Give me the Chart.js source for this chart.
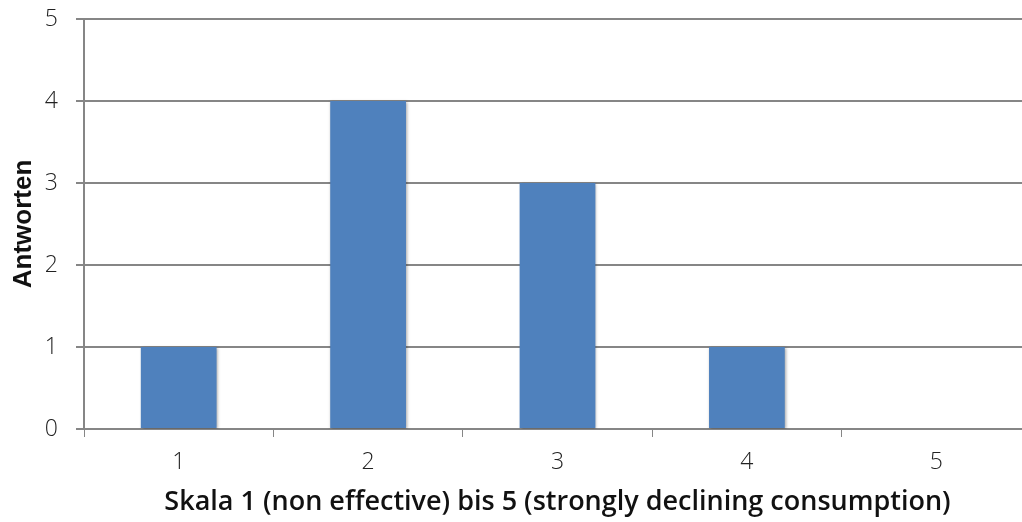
<!DOCTYPE html>
<html>
<head>
<meta charset="utf-8">
<script src="https://cdn.jsdelivr.net/npm/chart.js@4/dist/chart.umd.min.js"></script>
<style>
html,body{margin:0;padding:0;background:#fff;overflow:hidden;}
#wrap{width:1022px;height:522px;overflow:hidden;position:relative;}
#box{position:absolute;left:0;top:0;width:1034px;height:522px;}
</style>
</head>
<body>
<div id="wrap"><div id="box"><canvas id="c"></canvas></div></div>
<script>
const categories = ["1", "2", "3", "4", "5"];
const answers = [1, 4, 3, 1, 0];
const yTicks = [0, 1, 2, 3, 4, 5];
const xTitle = "Skala 1 (non effective) bis 5 (strongly declining consumption)";
const yTitle = "Antworten";

const gridColor = "#868686";
const barShadow = {
  id: "barShadow",
  beforeDatasetsDraw(chart) {
    const ctx = chart.ctx;
    ctx.save();
    ctx.shadowColor = "rgba(0,0,0,0.35)";
    ctx.shadowBlur = 3;
    ctx.shadowOffsetX = 1;
    ctx.shadowOffsetY = 1;
  },
  afterDatasetsDraw(chart) { chart.ctx.restore(); }
};
new Chart(document.getElementById("c"), {
  type: "bar",
  data: {
    labels: categories,
    datasets: [{
      data: answers,
      backgroundColor: "#4F81BD",
      borderWidth: 0,
      categoryPercentage: 1,
      barPercentage: 0.4
    }]
  },
  plugins: [barShadow],
  options: {
    responsive: true,
    maintainAspectRatio: false,
    animation: false,
    layout: { padding: { top: 19, right: 3, left: 0, bottom: 0 } },
    plugins: { legend: { display: false }, tooltip: { enabled: false } },
    scales: {
      x: {
        grid: { offset: true, drawOnChartArea: false, drawTicks: true, tickLength: 8, color: gridColor, lineWidth: 1 },
        border: { display: true, color: gridColor, width: 2 },
        ticks: { color: "#222", padding: 12, font: { family: "Open Sans", size: 23, weight: 300 } },
        title: { display: true, text: xTitle, color: "#111", padding: { top: 0, bottom: 3 }, font: { family: "Open Sans", size: 27, weight: 600 } },
        afterFit: s => { s.height = 93; s.paddingLeft = 0; s.paddingRight = 0; }
      },
      y: {
        min: 0, max: 5,
        afterBuildTicks: s => { s.ticks = yTicks.map(v => ({ value: v })); },
        grid: { drawTicks: true, tickLength: 8, color: gridColor, lineWidth: 2 },
        border: { display: true, color: gridColor, width: 2 },
        ticks: { color: "#222", padding: 18, font: { family: "Open Sans", size: 23, weight: 300 } },
        title: { display: true, text: yTitle, color: "#111", padding: { top: 8, bottom: 0 }, font: { family: "Liberation Sans", size: 26, weight: "bold" } },
        afterFit: s => { s.width = 84; s.paddingTop = 0; s.paddingBottom = 0; }
      }
    }
  }
});
</script>
</body>
</html>
